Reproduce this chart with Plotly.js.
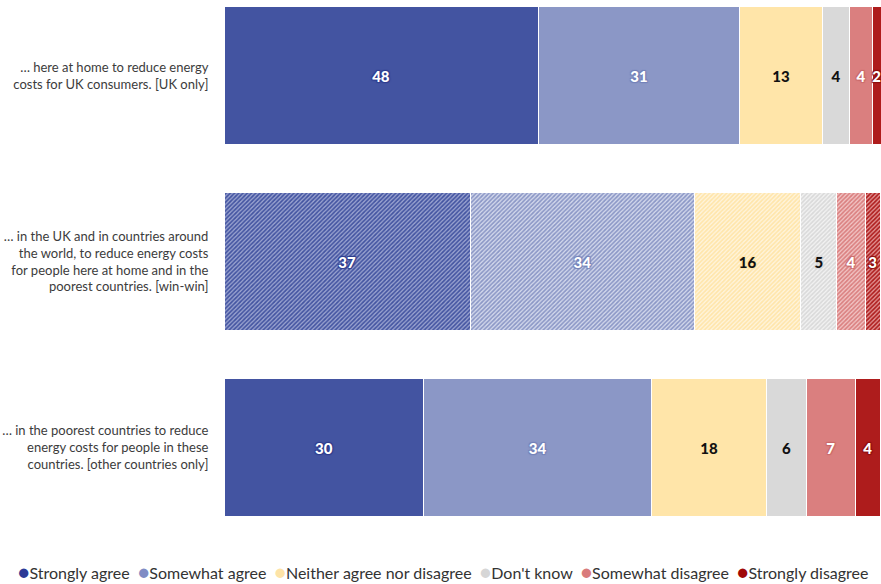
<!DOCTYPE html>
<html>
<head>
<meta charset="utf-8">
<script src="https://cdn.plot.ly/plotly-3.0.1.min.js"></script>
<style>html,body{margin:0;padding:0;background:#fff;}#chart{width:881px;height:584px;}</style>
</head>
<body>
<div id="chart"></div>
<script>
// Categories (statements)
const categories = [
  "… here at home to reduce energy<br>costs for UK consumers. [UK only]",
  "… in the UK and in countries around<br>the world, to reduce energy costs<br>for people here at home and in the<br>poorest countries. [win-win]",
  "… in the poorest countries to reduce<br>energy costs for people in these<br>countries. [other countries only]"
];
const seriesNames = ["Strongly agree", "Somewhat agree", "Neither agree nor disagree", "Don't know", "Somewhat disagree", "Strongly disagree"];

// Shares (bar widths)
const stronglyAgree    = [47.8, 37.5, 30.4];
const somewhatAgree    = [30.7, 34.1, 34.7];
const neither          = [12.6, 16.2, 17.5];
const dontKnow         = [4.1, 5.5, 6.0];
const somewhatDisagree = [3.5, 4.3, 7.5];
const stronglyDisagree = [1.3, 2.3, 3.8];

// Printed labels
const labelsStronglyAgree    = [48, 37, 30];
const labelsSomewhatAgree    = [31, 34, 34];
const labelsNeither          = [13, 16, 18];
const labelsDontKnow         = [4, 5, 6];
const labelsSomewhatDisagree = [4, 4, 7];
const labelsStronglyDisagree = [2, 3, 4];

const values = [stronglyAgree, somewhatAgree, neither, dontKnow, somewhatDisagree, stronglyDisagree];
const labels = [labelsStronglyAgree, labelsSomewhatAgree, labelsNeither, labelsDontKnow, labelsSomewhatDisagree, labelsStronglyDisagree];

const colors      = ["#4354A1", "#8B97C6", "#FFE5A9", "#D9D9D9", "#DA7F7F", "#AE1C1C"];
const hatchBg     = ["#9CA5D1", "#D5DAED", "#FFF5DE", "#F3F3F3", "#F2C6C6", "#E39696"];
const haloColors  = ["#2E3D8E", "#7381B8", "#FFE5A9", "#D9D9D9", "#C96868", "#8E0F0F"];
const legendDots  = ["#2B3A96", "#7F8CC4", "#FDE3A7", "#D6D6D6", "#D97B7B", "#A00808"];
const textColors  = ["#ffffff", "#ffffff", "#111111", "#111111", "#ffffff", "#ffffff"];
const hatched     = ["", "/", ""];

function halo(c) {
  return "-1px -1px 1px " + c + ", 1px -1px 1px " + c + ", -1px 1px 1px " + c + ", 1px 1px 1px " + c;
}

const traces = values.map((v, i) => ({
  type: "bar",
  orientation: "h",
  name: seriesNames[i],
  x: v,
  y: categories,
  text: labels[i].map(String),
  textposition: "inside",
  insidetextanchor: "middle",
  textangle: 0,
  constraintext: "none",
  textfont: {family: "Lato, sans-serif", size: 15, weight: 900, color: textColors[i], shadow: halo(haloColors[i])},
  width: 0.747,
  marker: {
    color: colors[i],
    line: {color: "#ffffff", width: 1},
    pattern: {
      shape: hatched,
      fgcolor: colors[i],
      bgcolor: hatchBg[i],
      fillmode: "replace",
      size: 3,
      solidity: 0.55
    }
  },
  hoverinfo: "none",
  showlegend: false
}));

const legendText = seriesNames.map((n, i) =>
  "<span style='color:" + legendDots[i] + ";font-size:19px'>●</span>" + n
).join("\u00A0\u00A0");

const layout = {
  width: 881,
  height: 584,
  margin: {l: 224, r: 0, t: 0, b: 54},
  barmode: "stack",
  paper_bgcolor: "#ffffff",
  plot_bgcolor: "#ffffff",
  showlegend: false,
  uniformtext: {mode: "show", minsize: 15},
  xaxis: {range: [0, 100], showticklabels: false, showgrid: false, zeroline: false, showline: false, fixedrange: true},
  yaxis: {
    type: "category",
    range: [2.4435, -0.406],
    showgrid: false, zeroline: false, showline: false,
    ticks: "outside", ticklen: 12, tickcolor: "rgba(0,0,0,0)",
    tickfont: {family: "Lato, sans-serif", size: 13, color: "#3c3c3c"},
    fixedrange: true
  },
  annotations: [{
    xref: "paper", yref: "paper",
    x: (443 - 224) / 657, y: -41 / 530,
    xanchor: "center", yanchor: "middle",
    showarrow: false,
    text: legendText,
    font: {family: "Lato, sans-serif", size: 16, color: "#333333"}
  }]
};

Plotly.newPlot("chart", traces, layout, {displayModeBar: false, staticPlot: true});
</script>
</body>
</html>
